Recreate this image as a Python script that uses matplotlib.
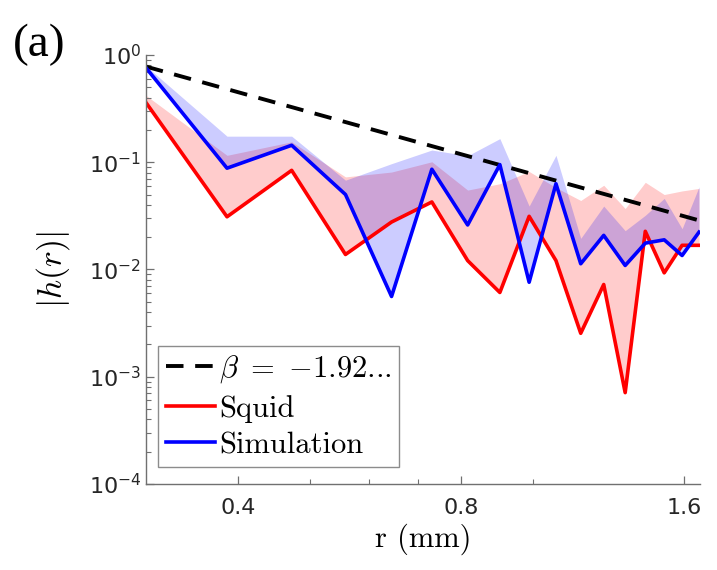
import numpy as np
import matplotlib
matplotlib.use("Agg")
import matplotlib.pyplot as plt
from matplotlib.ticker import FixedLocator, FixedFormatter, NullFormatter, LogLocator

plt.rcParams['mathtext.fontset'] = 'cm'
plt.rcParams['axes.unicode_minus'] = False

# radial distance (mm)
r_mm = [0.300, 0.386, 0.472, 0.558, 0.644, 0.730, 0.816, 0.902, 0.988,
        1.074, 1.160, 1.246, 1.332, 1.418, 1.504, 1.590, 1.676]

# squid measurement and upper edge of its band
squid = [0.36, 0.031, 0.084, 0.0138, 0.0277, 0.0426, 0.0121, 0.0061, 0.0313,
         0.0121, 0.00254, 0.00724, 0.00071, 0.0227, 0.0093, 0.0168, 0.0168]
squid_hi = [0.42, 0.116, 0.155, 0.073, 0.081, 0.101, 0.055, 0.063, 0.082,
            0.058, 0.044, 0.061, 0.037, 0.065, 0.050, 0.054, 0.057]

# simulation and upper edge of its band
sim = [0.76, 0.088, 0.144, 0.050, 0.0056, 0.086, 0.026, 0.095, 0.0076,
       0.063, 0.0113, 0.0208, 0.0109, 0.0176, 0.0189, 0.0135, 0.0223]
sim_hi = [0.79, 0.175, 0.175, 0.068, 0.097, 0.13, 0.115, 0.166, 0.039,
          0.116, 0.0195, 0.039, 0.023, 0.032, 0.046, 0.024, 0.059]

# power law fit
beta = -1.92
amp = 0.0773

r = np.array(r_mm)
fit = amp * r ** beta

fig = plt.figure(figsize=(7.17, 5.70), dpi=100)
ax = fig.add_axes([0.2036, 0.151, 0.7724, 0.7525])

ax.fill_between(r, squid, squid_hi, color='red', alpha=0.2, linewidth=0)
ax.fill_between(r, sim, sim_hi, color='blue', alpha=0.2, linewidth=0)

ax.plot(r, fit, '--', color='black', lw=2.8, dashes=(4.5, 3.0),
        label=r'$\beta\ =\ {-}$1.92...')
ax.plot(r, squid, color='red', lw=2.6, label='Squid')
ax.plot(r, sim, color='blue', lw=2.6, label='Simulation')

ax.set_xscale('log')
ax.set_yscale('log')
ax.set_xlim(0.3, 1.68)
ax.set_ylim(1e-4, 1)

ax.xaxis.set_major_locator(FixedLocator([0.4, 0.8, 1.6]))
ax.xaxis.set_minor_locator(FixedLocator([0.5, 0.6, 0.7, 1.0]))
ax.xaxis.set_major_formatter(FixedFormatter(['0.4', '0.8', '1.6']))
ax.xaxis.set_minor_formatter(NullFormatter())
ax.yaxis.set_major_locator(LogLocator(base=10, numticks=10))
ax.yaxis.set_minor_locator(LogLocator(base=10, subs=np.arange(2, 10), numticks=10))
ax.yaxis.set_minor_formatter(NullFormatter())

for s in ['top', 'right']:
    ax.spines[s].set_visible(False)
for s in ['left', 'bottom']:
    ax.spines[s].set_color('#707070')
    ax.spines[s].set_linewidth(1.0)

ax.tick_params(which='both', direction='in', colors='#707070',
               labelcolor='#262626', labelsize=16)
ax.tick_params(which='major', length=6, width=0.9)
ax.tick_params(which='minor', length=3.5, width=0.8)
ax.tick_params(axis='x', pad=10)

ax.set_xlabel('r (mm)', fontsize=22, family='cmr10', labelpad=4)
ax.set_ylabel(r'$|h(r)|$', fontsize=24, labelpad=12)

leg = ax.legend(loc='lower left', bbox_to_anchor=(0.022, 0.04),
                prop={'family': 'cmr10', 'size': 22},
                frameon=True, fancybox=False, handlelength=1.6,
                handletextpad=0.15, borderpad=0.25, labelspacing=0.3,
                borderaxespad=0)
leg.get_frame().set_edgecolor('#707070')
leg.get_frame().set_linewidth(1.0)

fig.text(0.018, 0.902, '(a)', fontsize=34, family='Liberation Serif')

fig.savefig('out.png', dpi=100)
